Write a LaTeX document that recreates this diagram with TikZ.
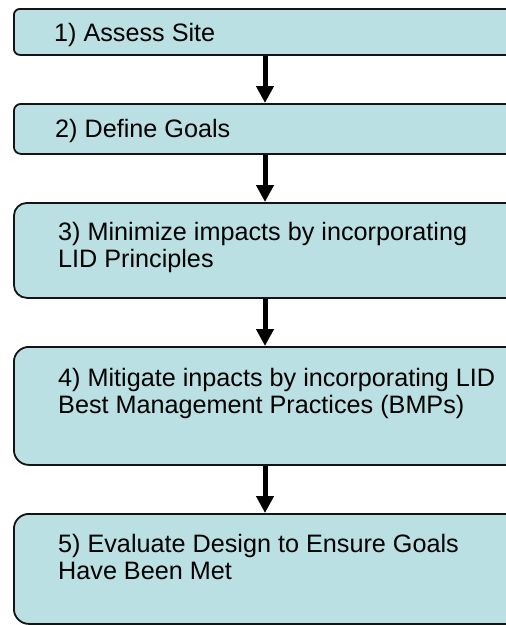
\documentclass[tikz,border=0pt]{standalone}
\usepackage{fontspec}
\setmainfont{Liberation Sans}
\usetikzlibrary{arrows.meta,calc}
\definecolor{boxfill}{RGB}{186,224,227}
\definecolor{boxline}{RGB}{20,20,20}
\tikzset{
  stepbox/.style={draw=boxline, line width=1.8pt, fill=boxfill, anchor=north west,
    minimum width=520pt, inner sep=0pt},
  lbl/.style={anchor=base west, inner sep=0pt, align=left,
    font=\fontsize{25.2pt}{27pt}\selectfont},
  arr/.style={line width=5pt, -{Triangle[width=17pt,length=17pt]}}
}
\begin{document}
\begin{tikzpicture}[x=1pt,y=-1pt]
\useasboundingbox (0,0) rectangle (506,625);
\clip (0,0) rectangle (506,625);
\node[stepbox, rounded corners=6pt, minimum height=46pt] (b1) at (13,8) {};
\node[stepbox, rounded corners=7pt, minimum height=50pt] (b2) at (13,103) {};
\node[stepbox, rounded corners=13pt, minimum height=95pt] (b3) at (13,202) {};
\node[stepbox, rounded corners=15pt, minimum height=118pt] (b4) at (13,346) {};
\node[stepbox, rounded corners=15pt, minimum height=110pt] (b5) at (13,513) {};
\node[lbl] (t1) at (54,41) {1) Assess Site};
\node[lbl] (t2) at (55,137) {2) Define Goals};
\node[lbl] (t3) at (58,267) {3) Minimize impacts by incorporating\\LID Principles};
\node[lbl] (t4) at (58,413) {4) Mitigate inpacts by incorporating LID\\Best Management Practices (BMPs)};
\node[lbl] (t5) at (58,579) {5) Evaluate Design to Ensure Goals\\Have Been Met};
\coordinate (ax) at (265,0);
\draw[arr] (b1.south -| ax) -- (b2.north -| ax);
\draw[arr] (b2.south -| ax) -- (b3.north -| ax);
\draw[arr] (b3.south -| ax) -- (b4.north -| ax);
\draw[arr] (b4.south -| ax) -- (b5.north -| ax);
\end{tikzpicture}
\end{document}
